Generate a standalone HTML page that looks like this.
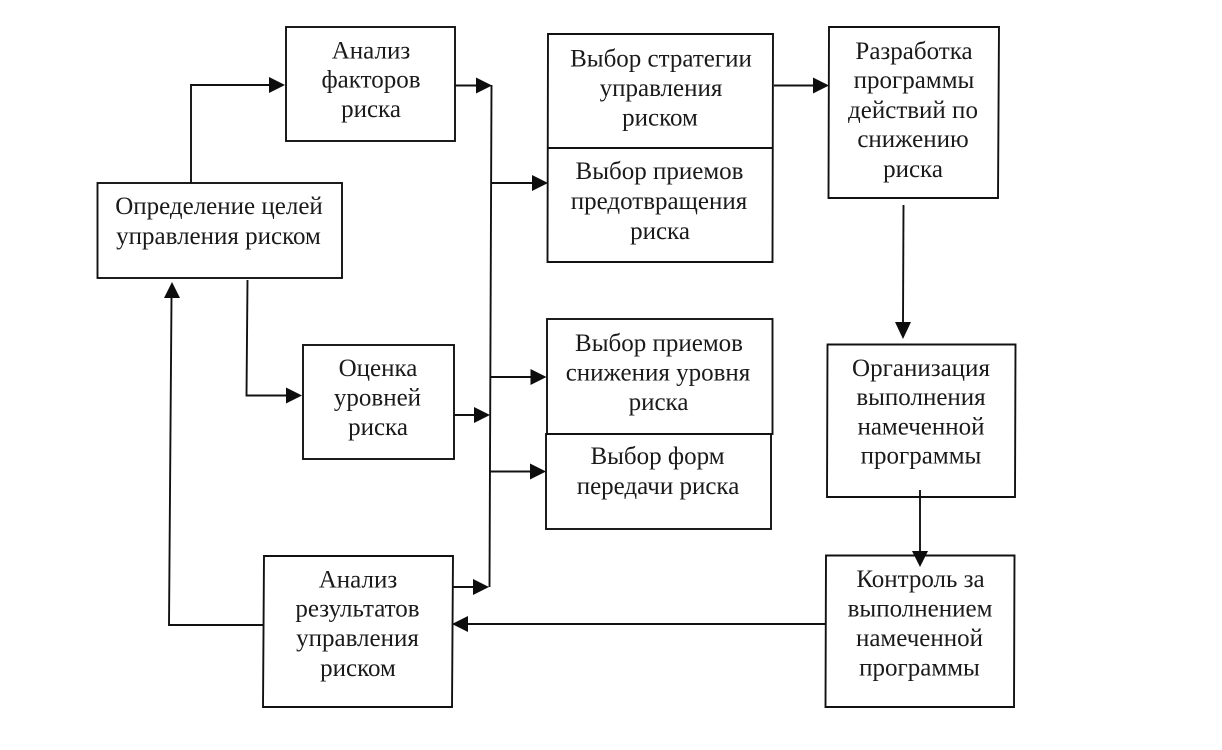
<!DOCTYPE html>
<html><head><meta charset="utf-8"><style>html,body{margin:0;padding:0;background:#fff}svg{display:block}text{font-family:"Liberation Serif",serif;font-size:25px;fill:#1a1a1a;text-anchor:middle}</style></head>
<body><svg width="1222" height="750" viewBox="0 0 1222 750" xmlns="http://www.w3.org/2000/svg">
<g fill="none" stroke="#111" stroke-width="1.9">
<rect x="286" y="27" width="169" height="114"/>
<rect x="97.5" y="183" width="244.5" height="95"/>
<rect x="303" y="345" width="151" height="114"/>
<polygon points="264,556 453,556 452,707 263,707"/>
<polygon points="548,34 773,34 772.5,262 547.5,262"/><line x1="548" y1="148" x2="773" y2="148"/>
<rect x="547" y="319" width="225.5" height="115"/>
<rect x="546" y="434" width="225" height="95"/>
<polygon points="829,27 999,27 998,198 828.5,198"/>
<polygon points="827.5,344.5 1015.5,344.5 1015,497 827,497"/>
<polygon points="826,555.5 1014.5,555.5 1014,707 825.5,707"/>
<polyline points="191,183 191,85 270,85"/>
<polyline points="247.5,280 246.5,395.5 287,395.5"/>
<polyline points="171.5,297 169,625 264,625"/>
<line x1="455" y1="85.5" x2="477" y2="85.5"/>
<line x1="454" y1="415" x2="475" y2="415"/>
<line x1="452" y1="587" x2="474" y2="587"/>
<line x1="491.5" y1="85" x2="489.5" y2="587"/>
<line x1="491" y1="183" x2="532" y2="183"/>
<line x1="490.5" y1="377" x2="531" y2="377"/>
<line x1="490" y1="471.5" x2="530" y2="471.5"/>
<line x1="774" y1="85.5" x2="814" y2="85.5"/>
<line x1="903.5" y1="205" x2="903" y2="323"/>
<line x1="920" y1="490" x2="920" y2="552"/>
<line x1="826" y1="624" x2="467" y2="624"/>
</g>
<g fill="#0d0d0d">
<polygon points="285,85 269,77 269,93"/>
<polygon points="302,395.5 286,387.5 286,403.5"/>
<polygon points="172,282 164,298 180,298"/>
<polygon points="492,85.5 476,77.5 476,93.5"/>
<polygon points="490,415 474,407 474,423"/>
<polygon points="489,587 473,579 473,595"/>
<polygon points="548,183 532,175 532,191"/>
<polygon points="546.5,377 530.5,369 530.5,385"/>
<polygon points="546,471.5 530,463.5 530,479.5"/>
<polygon points="829,85.5 813,77.5 813,93.5"/>
<polygon points="903,339 895,322 911,322"/>
<polygon points="920,567 912,551 928,551"/>
<polygon points="452,624 468,616 468,632"/>
</g>
<text x="371" y="58.5">Анализ</text><text x="371" y="87.5">факторов</text><text x="371" y="117">риска</text>
<text x="219" y="214">Определение целей</text><text x="218.5" y="244">управления риском</text>
<text x="378" y="376">Оценка</text><text x="377.5" y="405.5">уровней</text><text x="378" y="435">риска</text>
<text x="358" y="587.5">Анализ</text><text x="357.5" y="616.5">результатов</text><text x="357.5" y="646">управления</text><text x="358" y="676">риском</text>
<text x="661" y="66.5">Выбор стратегии</text><text x="661" y="96">управления</text><text x="660" y="125.5">риском</text>
<text x="659.5" y="179">Выбор приемов</text><text x="659" y="209">предотвращения</text><text x="660" y="239">риска</text>
<text x="659" y="351">Выбор приемов</text><text x="658" y="380.5">снижения уровня</text><text x="658.5" y="410">риска</text>
<text x="657.5" y="464">Выбор форм</text><text x="658" y="494">передачи риска</text>
<text x="914" y="59">Разработка</text><text x="914" y="88">программы</text><text x="913" y="118">действий по</text><text x="913" y="147">снижению</text><text x="913" y="177">риска</text>
<text x="921" y="376">Организация</text><text x="921" y="405">выполнения</text><text x="921" y="434.5">намеченной</text><text x="921" y="463.5">программы</text>
<text x="920.5" y="587">Контроль за</text><text x="920" y="616.5">выполнением</text><text x="919.5" y="646">намеченной</text><text x="919.5" y="675.5">программы</text>
</svg></body></html>
